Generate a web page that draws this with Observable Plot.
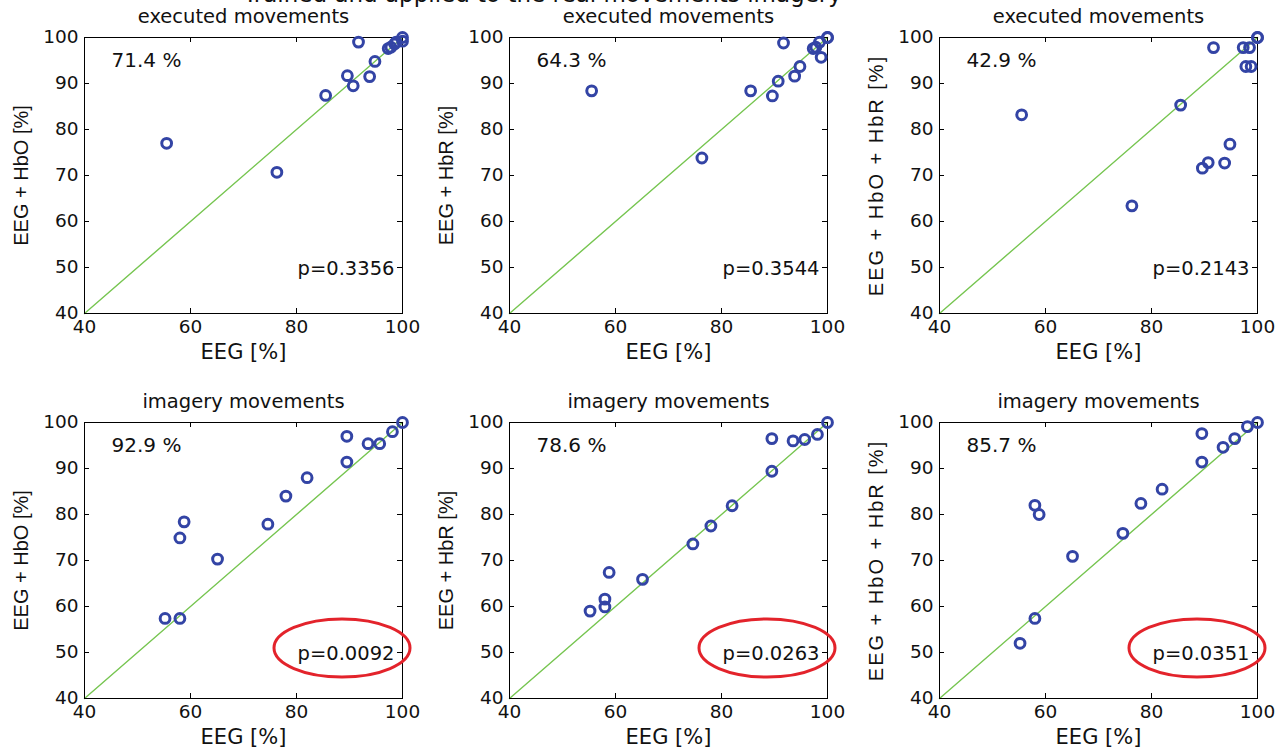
<!DOCTYPE html>
<html>
<head>
<meta charset="utf-8">
<script src="https://cdn.jsdelivr.net/npm/d3@7"></script>
<script src="https://cdn.jsdelivr.net/npm/@observablehq/plot@0.6"></script>
<style>
  body { margin: 0; background: #fff; }
  #root { position: relative; width: 1285px; height: 751px; overflow: hidden; background: #fff; }
  .panel { position: absolute; }
  .panel svg { overflow: visible; }
  #toptitle { position: absolute; left: 0; top: -19.5px; width: 1085px; text-align: center;
    font-family: "DejaVu Sans", sans-serif; font-size: 23px; color: #111; white-space: nowrap; }
</style>
</head>
<body>
<div id="root">
  <div id="toptitle">Trained and applied to the real movements imagery</div>
</div>
<script>
// ---- data ----
const xTicks = [40, 60, 80, 100];
const yTicks = [40, 50, 60, 70, 80, 90, 100];
const identityLine = [40, 100];

const eegExecuted     = [55.5, 76.3, 85.5, 89.6, 90.7, 91.7, 93.8, 94.8, 97.3, 97.8, 98.5, 98.8, 100, 100];
const hboExecuted     = [77.0, 70.7, 87.4, 91.7, 89.5, 99.0, 91.5, 94.8, 97.6, 97.9, 98.6, 99.0, 100, 99.2];
const hbrExecuted     = [88.4, 73.8, 88.4, 87.3, 90.5, 98.8, 91.6, 93.7, 97.6, 97.9, 99.0, 95.7, 100, 100];
const hboHbrExecuted  = [83.2, 63.4, 85.3, 71.6, 72.8, 97.8, 72.7, 76.8, 97.8, 93.7, 97.8, 93.7, 100, 100];

const eegImagery      = [55.2, 58.0, 58.0, 58.8, 65.1, 74.6, 78.0, 82.0, 89.5, 89.5, 93.5, 95.7, 98.1, 100];
const hboImagery      = [57.4, 57.4, 74.9, 78.4, 70.3, 77.9, 84.0, 88.0, 97.0, 91.4, 95.4, 95.4, 98.0, 100];
const hbrImagery      = [59.0, 59.9, 61.6, 67.4, 65.9, 73.6, 77.5, 81.9, 96.5, 89.4, 96.0, 96.3, 97.4, 100];
const hboHbrImagery   = [52.0, 57.4, 82.0, 80.0, 70.9, 75.9, 82.4, 85.5, 97.6, 91.4, 94.6, 96.5, 99.1, 100];

const rowTitles  = ["executed movements", "imagery movements"];
const yLabels    = ["EEG + HbO [%]", "EEG + HbR [%]", "EEG + HbO + HbR [%]"];
const xLabel     = "EEG [%]";
const percents   = [["71.4 %", "64.3 %", "42.9 %"], ["92.9 %", "78.6 %", "85.7 %"]];
const pValues    = [["p=0.3356", "p=0.3544", "p=0.2143"], ["p=0.0092", "p=0.0263", "p=0.0351"]];
const circledRow = [false, true];

// ---- layout ----
const W = 318, H = 276;
const mL = 70, mR = 16, mT = 30, mB = 52;
const colLeft = [84, 509, 939];
const rowTop = [37, 422];
const HFONT = "DejaVu Sans, Verdana, sans-serif";
const VFONT = "Liberation Sans, Arial, Helvetica, sans-serif";

function redEllipse(index, scales, values, dims) {
  const cx = dims.width - dims.marginRight - 60;
  const cy = dims.height - dims.marginBottom - 50;
  return d3.create("svg:ellipse")
    .attr("cx", cx).attr("cy", cy).attr("rx", 68).attr("ry", 29)
    .attr("fill", "none").attr("stroke", "#e3232b").attr("stroke-width", 3)
    .node();
}

function panel(eeg, hyb, r, c) {
  const data = eeg.map((x, i) => ({x, y: hyb[i]}));
  const inner = yTicks.slice(1, -1);
  const innerX = xTicks.slice(1, -1);
  const marks = [
    Plot.line(identityLine, {x: d => d, y: d => d, stroke: "#76c550", strokeWidth: 1.4}),
    Plot.frame({stroke: "#000", strokeWidth: 1}),
    Plot.tickX(innerX, {x: d => d, insetTop: H - 5, stroke: "#000"}),
    Plot.tickX(innerX, {x: d => d, insetBottom: H - 5, stroke: "#000"}),
    Plot.tickY(inner, {y: d => d, insetRight: W - 5, stroke: "#000"}),
    Plot.tickY(inner, {y: d => d, insetLeft: W - 5, stroke: "#000"}),
    Plot.dot(data, {x: "x", y: "y", r: 4.9, stroke: "#3344a5", strokeWidth: 3, fill: "none"}),
    Plot.axisX(xTicks, {tickSize: 0, tickPadding: 6, label: null, fontSize: 18.5, fontFamily: HFONT}),
    Plot.axisY(yTicks, {tickSize: 0, tickPadding: 6, label: null, fontSize: 18.5, fontFamily: HFONT}),
    Plot.text([percents[r][c]], {frameAnchor: "top-left", lineAnchor: "middle", dx: 27, dy: 23, text: d => d,
      textAnchor: "start", fontSize: 20, fontFamily: HFONT, fill: "#111"}),
    Plot.text([pValues[r][c]], {frameAnchor: "bottom-right", lineAnchor: "middle", dx: -8, dy: -45, text: d => d,
      textAnchor: "end", fontSize: 19.5, fontFamily: HFONT, fill: "#111"}),
    Plot.text([rowTitles[r]], {frameAnchor: "top", lineAnchor: "middle", dy: -21, text: d => d, fontSize: 19.5,
      fontFamily: HFONT, fill: "#111"}),
    Plot.text([xLabel], {frameAnchor: "bottom", lineAnchor: "middle", dy: 39, text: d => d, fontSize: 21,
      fontFamily: HFONT, fill: "#111"}),
    Plot.text([yLabels[c]], {frameAnchor: "left", lineAnchor: "middle", textAnchor: "middle", dx: -63, rotate: -90,
      text: d => d, fontSize: 20, fontFamily: VFONT, fill: "#111"})
  ];
  if (circledRow[r]) marks.push(redEllipse);
  const svg = Plot.plot({
    width: W + mL + mR, height: H + mT + mB,
    marginLeft: mL, marginRight: mR, marginTop: mT, marginBottom: mB,
    x: {domain: [40, 100], label: null},
    y: {domain: [40, 100], label: null},
    style: {background: "transparent", color: "#111", overflow: "visible"},
    marks
  });
  if (c === 2) {
    d3.select(svg).selectAll("text")
      .filter(function () { return this.textContent === yLabels[2]; })
      .style("letter-spacing", "2px");
  }
  const div = document.createElement("div");
  div.className = "panel";
  div.style.left = (colLeft[c] - mL) + "px";
  div.style.top = (rowTop[r] - mT) + "px";
  div.appendChild(svg);
  document.getElementById("root").appendChild(div);
}

const grid = [
  [[eegExecuted, hboExecuted], [eegExecuted, hbrExecuted], [eegExecuted, hboHbrExecuted]],
  [[eegImagery, hboImagery], [eegImagery, hbrImagery], [eegImagery, hboHbrImagery]]
];
grid.forEach((row, r) => row.forEach(([e, h], c) => panel(e, h, r, c)));
</script>
</body>
</html>
